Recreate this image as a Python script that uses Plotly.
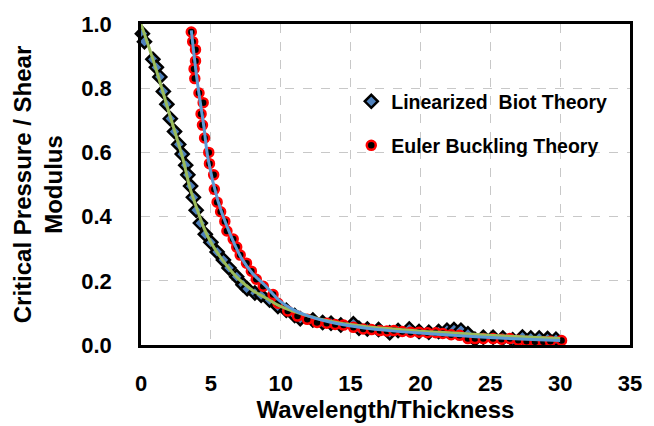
import plotly.graph_objects as go

# ---- data ----
biot_x = [0.1, 0.25, 0.85, 1.1, 1.35, 1.6, 1.85, 2.1, 2.4, 2.7, 2.95, 3.2, 3.35, 3.55, 3.75, 3.95,
          4.25, 4.6, 5.0, 5.45, 5.9, 6.3, 6.85, 7.3, 7.6, 8.15, 8.6, 9.2, 9.8, 10.4, 11.0, 11.4,
          12.3, 13.0, 13.6, 14.3, 15.2, 15.6, 16.2, 17.0, 17.8, 18.4, 19.2, 19.9, 20.6, 21.3,
          21.9, 22.4, 22.9, 23.4, 23.9, 24.5, 25.2, 25.9, 26.6, 27.3, 27.9, 28.5, 29.1, 29.7]
biot_y = [0.97, 0.945, 0.89, 0.865, 0.835, 0.79, 0.75, 0.705, 0.665, 0.625, 0.595, 0.56, 0.53,
          0.495, 0.46, 0.42, 0.38, 0.345, 0.32, 0.29, 0.265, 0.24, 0.213, 0.188, 0.175, 0.162,
          0.155, 0.14, 0.12, 0.108, 0.092, 0.082, 0.078, 0.07, 0.068, 0.062, 0.066, 0.052, 0.05,
          0.048, 0.038, 0.045, 0.05, 0.042, 0.04, 0.042, 0.046, 0.048, 0.046, 0.035, 0.018,
          0.024, 0.024, 0.022, 0.016, 0.025, 0.022, 0.022, 0.02, 0.018]

euler_x = [3.6, 3.7, 3.9, 3.9, 3.8, 3.85, 4.15, 4.45, 4.3, 4.4, 4.55, 4.85, 4.9, 5.2, 5.25, 5.45,
           5.7, 6.0, 6.15, 6.6, 6.85, 7.1, 7.55, 7.9, 8.25, 8.75, 9.45, 9.8, 10.5, 11.2, 11.9,
           12.6, 13.3, 13.9, 14.5, 15.2, 15.9, 16.5, 17.1, 17.6, 18.1, 18.7, 19.3, 19.9, 20.5,
           21.1, 21.6, 22.2, 22.8, 23.4, 23.9, 24.5, 25.2, 25.8, 26.4, 27.0, 27.6, 28.2, 28.8,
           29.3, 30.1]
euler_y = [0.975, 0.945, 0.92, 0.885, 0.86, 0.83, 0.785, 0.755, 0.72, 0.685, 0.645, 0.6, 0.565,
           0.53, 0.485, 0.445, 0.415, 0.385, 0.355, 0.33, 0.305, 0.28, 0.255, 0.23, 0.205, 0.183,
           0.157, 0.13, 0.106, 0.09, 0.08, 0.07, 0.068, 0.064, 0.062, 0.055, 0.05, 0.048, 0.045,
           0.044, 0.045, 0.042, 0.04, 0.04, 0.038, 0.038, 0.036, 0.032, 0.03, 0.02, 0.02, 0.02,
           0.02, 0.018, 0.02, 0.015, 0.012, 0.01, 0.01, 0.012, 0.014]

biot_fit_x = [0, 1, 2, 3, 3.5, 4, 4.5, 5, 6, 7, 8, 9, 10, 12, 14, 16, 18, 20, 22, 24, 26, 28, 30]
biot_fit_y = [1.0, 0.87, 0.725, 0.58, 0.49, 0.425, 0.365, 0.32, 0.255, 0.205, 0.17, 0.145, 0.12,
              0.09, 0.07, 0.058, 0.05, 0.043, 0.038, 0.033, 0.028, 0.024, 0.02]

euler_fit_x = [3.6, 4, 4.5, 4.8, 5.5, 6.15, 7.2, 8, 8.85, 10, 11, 12, 13, 14, 16, 18, 20, 22, 24,
               26, 28, 30]
euler_fit_y = [0.98, 0.83, 0.68, 0.58, 0.45, 0.37, 0.27, 0.222, 0.187, 0.135, 0.108, 0.09, 0.077,
               0.067, 0.053, 0.044, 0.037, 0.031, 0.026, 0.021, 0.017, 0.014]

x_ticks = [0, 5, 10, 15, 20, 25, 30, 35]
y_ticks = [0.0, 0.2, 0.4, 0.6, 0.8, 1.0]

FONT = "Liberation Sans, Arial, sans-serif"

fig = go.Figure()
fig.add_trace(go.Scatter(
    x=biot_x, y=biot_y, mode="markers", name="Linearized\u00a0 Biot Theory",
    marker=dict(symbol="diamond", size=10, color="#4F81BD", line=dict(color="black", width=2.5)),
    legend="legend", cliponaxis=False))
fig.add_trace(go.Scatter(
    x=euler_x, y=euler_y, mode="markers", name="Euler Buckling Theory",
    marker=dict(symbol="circle", size=9, color="black", line=dict(color="#FF0000", width=2.5)),
    legend="legend2", cliponaxis=False))
fig.add_trace(go.Scatter(
    x=biot_fit_x, y=biot_fit_y, mode="lines", line=dict(color="#9BBB59", width=3, shape="spline"),
    showlegend=False, hoverinfo="skip"))
fig.add_trace(go.Scatter(
    x=euler_fit_x, y=euler_fit_y, mode="lines", line=dict(color="#5B9BD5", width=3, shape="spline"),
    showlegend=False, hoverinfo="skip"))

legend_common = dict(
    xanchor="left", yanchor="middle", bgcolor="rgba(0,0,0,0)",
    font=dict(family=FONT, size=19.5, color="black", weight="bold"),
    itemsizing="trace", itemwidth=30)

fig.update_layout(
    width=654, height=426,
    margin=dict(l=141, r=16, t=21, b=78),
    paper_bgcolor="white", plot_bgcolor="white",
    legend=dict(x=0.43, y=0.758, **legend_common),
    legend2=dict(x=0.43, y=0.621, **legend_common),
    xaxis=dict(
        range=[0, 35], tickvals=x_ticks, ticktext=[str(v) for v in x_ticks],
        showgrid=True, gridcolor="#c8c8c8", griddash="dash", gridwidth=1,
        showline=True, linecolor="black", linewidth=2.5, mirror=True,
        ticks="", ticklabelstandoff=17, zeroline=False,
        tickfont=dict(family=FONT, size=22, color="black", weight="bold"),
        title=dict(text="Wavelength/Thickness", standoff=1,
                   font=dict(family=FONT, size=24, color="black", weight="bold"))),
    yaxis=dict(
        range=[0, 1], tickvals=y_ticks, ticktext=[f"{v:.1f}" for v in y_ticks],
        showgrid=True, gridcolor="#c8c8c8", griddash="dash", gridwidth=1,
        showline=True, linecolor="black", linewidth=2.5, mirror=True,
        ticks="", ticklabelstandoff=22, zeroline=False,
        tickfont=dict(family=FONT, size=22, color="black", weight="bold"),
        title=dict(text="Critical Pressure / Shear<br>Modulus", standoff=12,
                   font=dict(family=FONT, size=24, color="black", weight="bold"))),
)

fig.write_html(
    "out.html",
    config={"displayModeBar": False},
    post_script="document.body.style.margin='0';document.body.style.overflow='hidden';")
